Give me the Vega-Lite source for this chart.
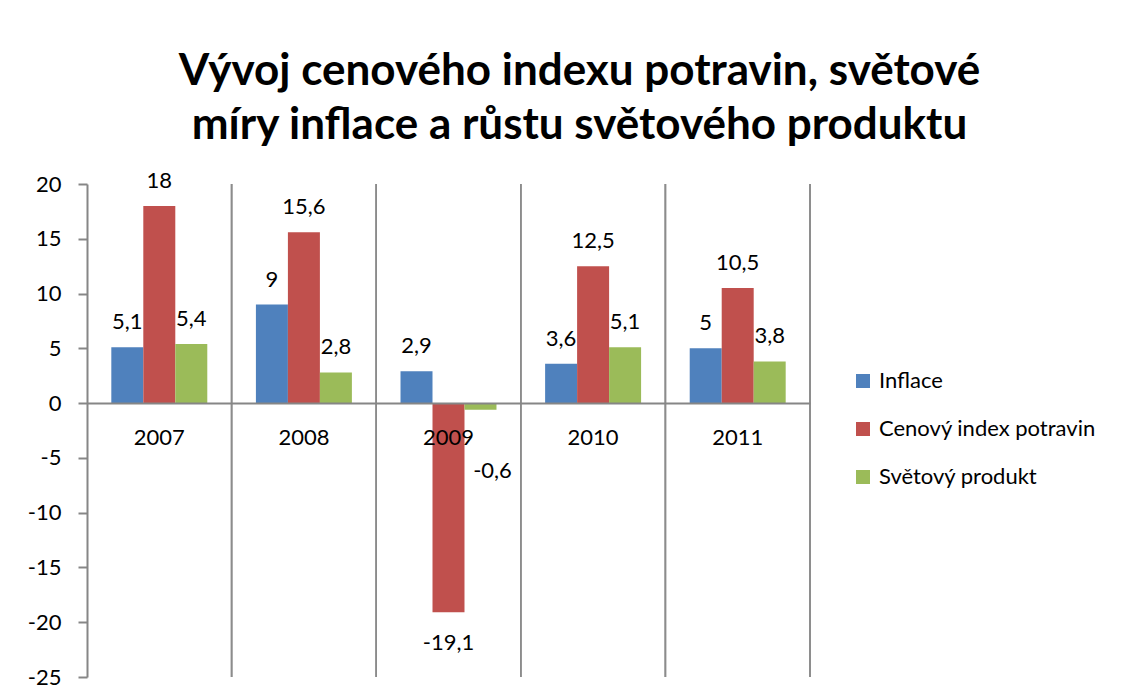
{
  "$schema": "https://vega.github.io/schema/vega-lite/v6.json",
  "autosize": {"type": "none"},
  "width": 723,
  "height": 493,
  "padding": {"left": 87, "top": 184, "right": 320, "bottom": 23},
  "background": "white",
  "config": {
    "font": "Lato",
    "view": {"stroke": null},
    "locale": {"number": {"decimal": ",", "thousands": " ", "grouping": [3], "currency": ["", " Kč"], "minus": "-"}}
  },
  "title": {
    "text": ["Vývoj cenového indexu potravin, světové", "míry inflace a růstu světového produktu"],
    "font": "Lato",
    "fontSize": 44,
    "fontWeight": "bold",
    "color": "black",
    "anchor": "middle",
    "frame": "group",
    "dx": 131,
    "offset": 22,
    "lineHeight": 54
  },
  "data": {
    "values": [
      {"rok": "2007", "rada": "Inflace", "v": 5.1},
      {"rok": "2007", "rada": "Cenový index potravin", "v": 18},
      {"rok": "2007", "rada": "Světový produkt", "v": 5.4},
      {"rok": "2008", "rada": "Inflace", "v": 9},
      {"rok": "2008", "rada": "Cenový index potravin", "v": 15.6},
      {"rok": "2008", "rada": "Světový produkt", "v": 2.8},
      {"rok": "2009", "rada": "Inflace", "v": 2.9},
      {"rok": "2009", "rada": "Cenový index potravin", "v": -19.1},
      {"rok": "2009", "rada": "Světový produkt", "v": -0.6},
      {"rok": "2010", "rada": "Inflace", "v": 3.6},
      {"rok": "2010", "rada": "Cenový index potravin", "v": 12.5},
      {"rok": "2010", "rada": "Světový produkt", "v": 5.1},
      {"rok": "2011", "rada": "Inflace", "v": 5},
      {"rok": "2011", "rada": "Cenový index potravin", "v": 10.5},
      {"rok": "2011", "rada": "Světový produkt", "v": 3.8}
    ]
  },
  "encoding": {
    "x": {
      "field": "rok",
      "type": "nominal",
      "scale": {"paddingInner": 0, "paddingOuter": 0},
      "axis": {
        "title": null,
        "labelAngle": 0,
        "labelFont": "Lato",
        "labelFontSize": 22,
        "labelColor": "black",
        "labelPadding": 24,
        "ticks": false,
        "domainColor": "#868686",
        "domainWidth": 2,
        "offset": -274,
        "grid": false,
        "zindex": 1
      }
    }
  },
  "layer": [
    {
      "mark": {"type": "rule", "color": "#8c8c8c", "strokeWidth": 1.5},
      "encoding": {
        "x": {"field": "rok", "type": "nominal", "bandPosition": 1}
      }
    },
    {
      "mark": {"type": "bar"},
      "encoding": {
        "xOffset": {
          "field": "rada",
          "type": "nominal",
          "sort": ["Inflace", "Cenový index potravin", "Světový produkt"],
          "scale": {"paddingInner": 0, "paddingOuter": 0.76}
        },
        "y": {
          "field": "v",
          "type": "quantitative",
          "scale": {"domain": [-25, 20], "nice": false, "zero": false},
          "axis": {
            "title": null,
            "values": [-25, -20, -15, -10, -5, 0, 5, 10, 15, 20],
            "grid": false,
            "labelFont": "Lato",
            "labelFontSize": 22,
            "labelColor": "black",
            "labelPadding": 17,
            "tickSize": 9,
            "tickColor": "#868686",
            "tickWidth": 2,
            "domainColor": "#868686",
            "domainWidth": 2,
            "format": "d"
          }
        },
        "color": {
          "field": "rada",
          "type": "nominal",
          "sort": ["Inflace", "Cenový index potravin", "Světový produkt"],
          "scale": {"range": ["#4F81BD", "#C0504D", "#9BBB59"]},
          "legend": {
            "title": null,
            "orient": "none",
            "legendX": 765,
            "legendY": 186,
            "symbolType": "square",
            "symbolSize": 196,
            "symbolStrokeWidth": 0,
            "labelFont": "Lato",
            "labelFontSize": 22,
            "labelColor": "black",
            "labelOffset": 5,
            "labelLimit": 0,
            "rowPadding": 26
          }
        }
      }
    },
    {
      "transform": [{"filter": "datum.v >= 0"}],
      "mark": {"type": "text", "baseline": "alphabetic", "dy": -18, "fontSize": 22, "font": "Lato", "color": "black"},
      "encoding": {
        "xOffset": {"field": "rada", "type": "nominal", "sort": ["Inflace", "Cenový index potravin", "Světový produkt"], "scale": {"paddingInner": 0, "paddingOuter": 0.76}},
        "y": {"field": "v", "type": "quantitative"},
        "text": {"field": "v", "type": "quantitative", "format": ".1~f"}
      }
    },
    {
      "transform": [{"filter": "datum.v < -1"}],
      "mark": {"type": "text", "baseline": "alphabetic", "dy": 38, "fontSize": 22, "font": "Lato", "color": "black"},
      "encoding": {
        "xOffset": {"field": "rada", "type": "nominal", "sort": ["Inflace", "Cenový index potravin", "Světový produkt"], "scale": {"paddingInner": 0, "paddingOuter": 0.76}},
        "y": {"field": "v", "type": "quantitative"},
        "text": {"field": "v", "type": "quantitative", "format": ".1~f"}
      }
    },
    {
      "transform": [{"filter": "datum.v < 0 && datum.v >= -1"}],
      "mark": {"type": "text", "baseline": "alphabetic", "dy": 68, "dx": 12, "fontSize": 22, "font": "Lato", "color": "black"},
      "encoding": {
        "xOffset": {"field": "rada", "type": "nominal", "sort": ["Inflace", "Cenový index potravin", "Světový produkt"], "scale": {"paddingInner": 0, "paddingOuter": 0.76}},
        "y": {"field": "v", "type": "quantitative"},
        "text": {"field": "v", "type": "quantitative", "format": ".1~f"}
      }
    }
  ]
}
